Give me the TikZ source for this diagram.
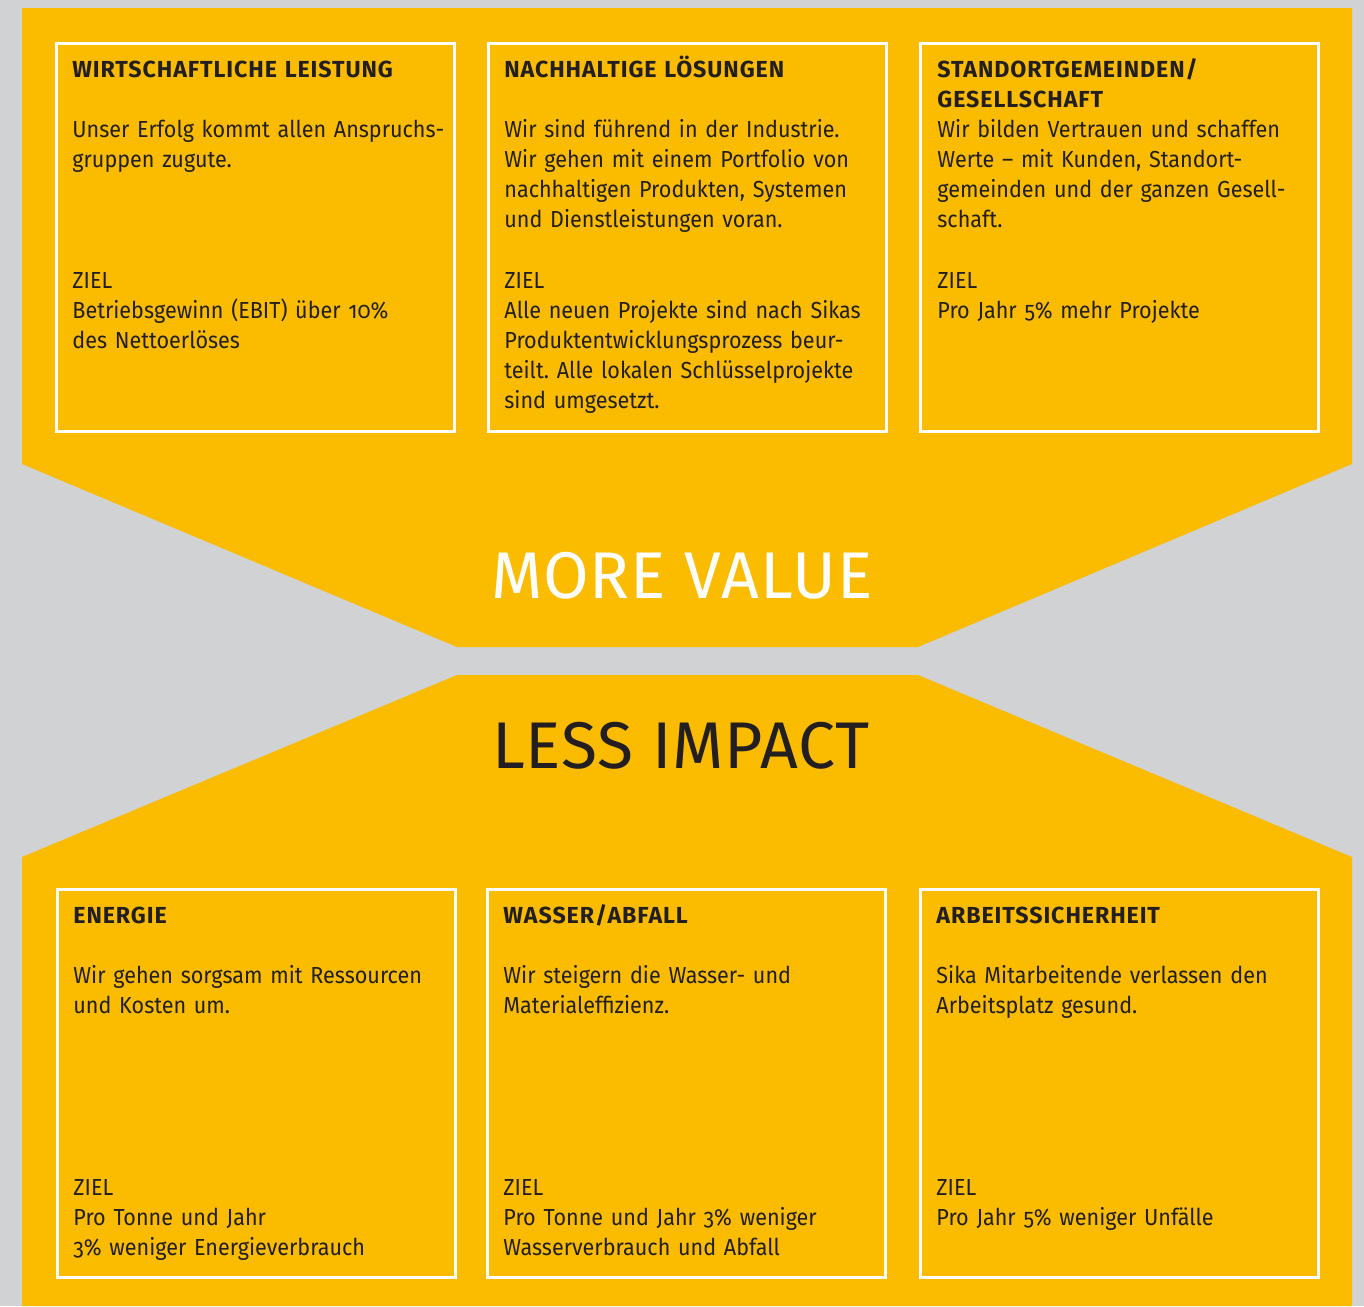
\documentclass[tikz,border=0pt]{standalone}
\usepackage{fontspec}
\setmainfont{Fira Sans}[Numbers=OldStyle, FakeStretch=0.93,
  BoldFeatures={FakeStretch=1.0, LetterSpace=4}]
\newfontfamily\titlefont{Fira Sans}[LetterSpace=1.5]
\usepackage{tikz}
\usetikzlibrary{positioning}
\frenchspacing

\definecolor{sikayellow}{RGB}{251,188,0}
\definecolor{panelgray}{RGB}{209,210,211}
\definecolor{inkdark}{RGB}{35,31,32}

\tikzset{
  goalbox/.style={draw=white, line width=1.5pt, minimum width=199pt, minimum height=194pt, inner sep=0pt},
  boxtext/.style={anchor=base west, inner sep=0pt, text width=198pt, align=left, text=inkdark,
    font=\fontsize{11.6}{15}\selectfont},
  boxhead/.style={boxtext, font=\fontsize{11.6}{15}\selectfont\bfseries},
  bigtitle/.style={anchor=base, inner sep=0pt, font=\titlefont\fontsize{33}{33}\selectfont}
}

\begin{document}
\begin{tikzpicture}[x=0.5pt,y=-0.5pt]
\useasboundingbox (0,0) rectangle (1364,1306);
\fill[panelgray] (0,0) rectangle (1364,1306);
% upper and lower panels
\fill[sikayellow] (22,8) -- (1352,8) -- (1352,464) -- (918,647) -- (457,647) -- (22,464) -- cycle;
\fill[sikayellow] (457,675) -- (918,675) -- (1352,857) -- (1352,1306) -- (22,1306) -- (22,857) -- cycle;

\node[bigtitle, text=white] (value) at (682,598) {MORE VALUE};
\node[bigtitle, text=inkdark] (impact) at (681,768) {LESS IMPACT};

% upper row
\foreach \n/\cx/\tx/\head/\body/\goal in {
  1/255/72/{WIRTSCHAFTLICHE LEISTUNG}/{Unser Erfolg kommt allen Anspruchs-\\gruppen zugute.}/{Betriebsgewinn (EBIT) über 10\%\\des Nettoerlöses},
  2/687/504/{NACHHALTIGE LÖSUNGEN}/{Wir sind führend in der Industrie.\\Wir gehen mit einem Portfolio von\\nachhaltigen Produkten, Systemen\\und Dienstleistungen voran.}/{Alle neuen Projekte sind nach Sikas\\Produktentwicklungsprozess beur-\\teilt. Alle lokalen Schlüsselprojekte\\sind umgesetzt.},
  3/1119/937/{STANDORTGEMEINDEN/\\GESELLSCHAFT}/{Wir bilden Vertrauen und schaffen\\Werte -- mit Kunden, Standort-\\gemeinden und der ganzen Gesell-\\schaft.}/{Pro Jahr 5\% mehr Projekte}} {
  \node[goalbox] (top\n) at (\cx,237) {};
  \node[boxhead] (top\n-head) at (\tx,77) {\head};
  \node[boxtext] (top\n-body) at (\tx,137) {\body};
  \node[boxtext] (top\n-goal) at (\tx,288) {ZIEL\\\goal};
}

% lower row
\foreach \n/\cx/\tx/\head/\body/\goal in {
  1/256/73/{ENERGIE}/{Wir gehen sorgsam mit Ressourcen\\und Kosten um.}/{Pro Tonne und Jahr\\3\% weniger Energieverbrauch},
  2/686/503/{WASSER/ABFALL}/{Wir steigern die Wasser- und\\Materialeffizienz.}/{Pro Tonne und Jahr 3\% weniger\\Wasserverbrauch und Abfall},
  3/1119/936/{ARBEITSSICHERHEIT}/{Sika Mitarbeitende verlassen den\\Arbeitsplatz gesund.}/{Pro Jahr 5\% weniger Unfälle}} {
  \node[goalbox] (low\n) at (\cx,1083) {};
  \node[boxhead] (low\n-head) at (\tx,923) {\head};
  \node[boxtext] (low\n-body) at (\tx,983) {\body};
  \node[boxtext] (low\n-goal) at (\tx,1195) {ZIEL\\\goal};
}
\end{tikzpicture}
\end{document}
